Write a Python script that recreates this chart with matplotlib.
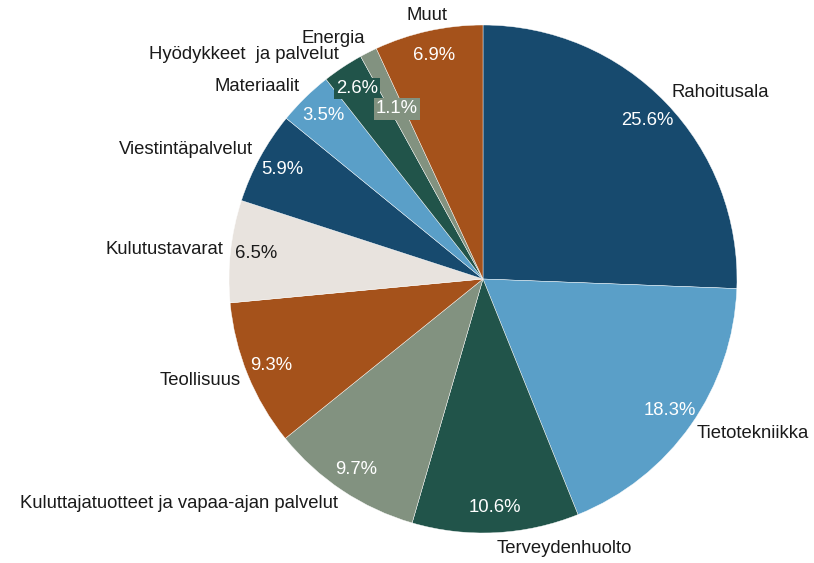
import matplotlib.pyplot as plt

plt.rcParams['font.family'] = ['Liberation Sans', 'DejaVu Sans']

# Sector weights, clockwise from 12 o'clock
sectors = ['Rahoitusala', 'Tietotekniikka', 'Terveydenhuolto',
           'Kuluttajatuotteet ja vapaa-ajan palvelut', 'Teollisuus',
           'Kulutustavarat', 'Viestintäpalvelut', 'Materiaalit',
           'Hyödykkeet  ja palvelut', 'Energia', 'Muut']
shares = [25.6, 18.3, 10.6, 9.7, 9.3, 6.5, 5.9, 3.5, 2.6, 1.1, 6.9]
colors = ['#174a6e', '#5a9fc8', '#21544a', '#829280', '#a5521b', '#e8e3de',
          '#174a6e', '#5a9fc8', '#21544a', '#829280', '#a5521b']

W, H = 814, 563
cx, cy, r = 483, 279, 254

fig = plt.figure(figsize=(W / 100, H / 100), dpi=100)
ax = fig.add_axes([(cx - r) / W, (H - cy - r) / H, 2 * r / W, 2 * r / H])

wedges, texts, autotexts = ax.pie(
    shares, labels=sectors, colors=colors, startangle=90, counterclock=False,
    autopct='%.1f%%', pctdistance=0.9, labeldistance=1.03,
    wedgeprops=dict(edgecolor='white', linewidth=0.3),
    textprops=dict(fontsize=13.3, color='#1a1a1a'))

# push labels a bit further out vertically so the text box clears the rim
for t in texts:
    x, y = t.get_position()
    t.set_position((x, y * 1.03))

for t, c in zip(autotexts, colors):
    t.set_fontsize(13.3)
    t.set_color('#1a1a1a' if c == '#e8e3de' else 'white')

# small slices get a coloured box behind the value
for i in (8, 9):
    autotexts[i].set_bbox(dict(facecolor=colors[i], edgecolor='none', pad=1.5))
x, y = autotexts[9].get_position()
autotexts[9].set_position((x * 0.75 / 0.9, y * 0.75 / 0.9))

texts[-1].set_ha('center')

ax.set_xlim(-1, 1)
ax.set_ylim(-1, 1)
ax.axis('off')

fig.savefig('out.png', dpi=100)
